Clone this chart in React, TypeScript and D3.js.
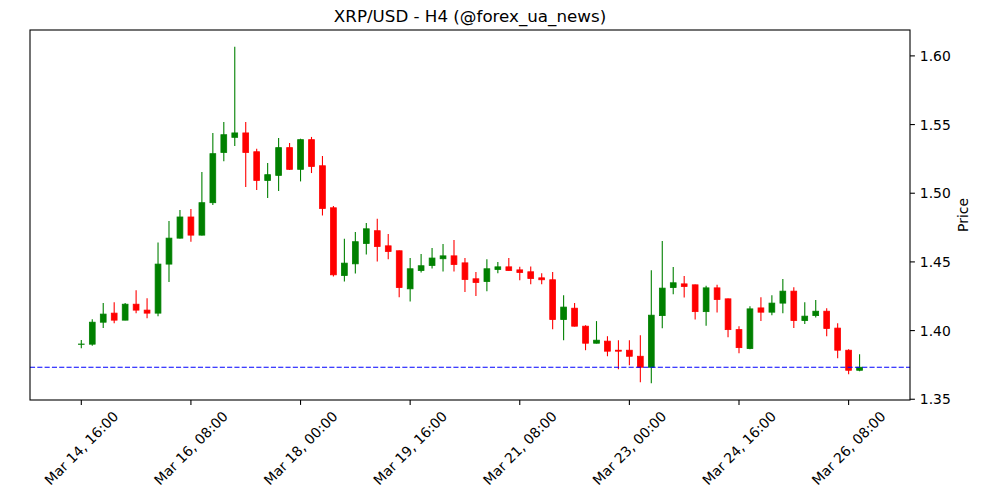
import React from "react";
import * as d3 from "d3";

// 4h candles, Mar 14 16:00 -> Mar 26 12:00
const opens = [
  1.3900, 1.3901, 1.4061, 1.4127, 1.4076, 1.4192, 1.4149, 1.4127, 1.4484, 1.4673,
  1.4827, 1.4695, 1.4931, 1.5297, 1.5407, 1.5439, 1.5302, 1.5093, 1.5130, 1.5332,
  1.5174, 1.5390, 1.5200, 1.4894, 1.4401, 1.4486, 1.4634, 1.4727, 1.4617, 1.4581,
  1.4304, 1.4437, 1.4474, 1.4523, 1.4544, 1.4493, 1.4377, 1.4357, 1.4445, 1.4464,
  1.4442, 1.4428, 1.4384, 1.4370, 1.4080, 1.4163, 1.4032, 1.3908, 1.3923, 1.3857,
  1.3857, 1.3813, 1.3733, 1.4109, 1.4313, 1.4340, 1.4333, 1.4138, 1.4311, 1.4231,
  1.4007, 1.3869, 1.4165, 1.4134, 1.4200, 1.4287, 1.4073, 1.4109, 1.4141, 1.4018,
  1.3857, 1.3711,
];
const highs = [
  1.3932, 1.4083, 1.4200, 1.4207, 1.4200, 1.4294, 1.4236, 1.4641, 1.4797, 1.4878,
  1.4885, 1.5155, 1.5439, 1.5519, 1.6066, 1.5519, 1.5324, 1.5220, 1.5402, 1.5366,
  1.5397, 1.5410, 1.5271, 1.4907, 1.4668, 1.4717, 1.4783, 1.4814, 1.4703, 1.4583,
  1.4528, 1.4557, 1.4601, 1.4630, 1.4659, 1.4528, 1.4426, 1.4520, 1.4500, 1.4528,
  1.4464, 1.4466, 1.4418, 1.4426, 1.4258, 1.4200, 1.4039, 1.4069, 1.3959, 1.3930,
  1.3930, 1.3966, 1.4440, 1.4652, 1.4462, 1.4397, 1.4335, 1.4326, 1.4333, 1.4233,
  1.4032, 1.4178, 1.4243, 1.4258, 1.4375, 1.4316, 1.4207, 1.4222, 1.4163, 1.4054,
  1.3864, 1.3828,
];
const lows = [
  1.3872, 1.3889, 1.4018, 1.4054, 1.4076, 1.4127, 1.4090, 1.4105, 1.4353, 1.4670,
  1.4647, 1.4693, 1.4914, 1.5232, 1.5344, 1.5045, 1.5023, 1.4965, 1.5016, 1.5170,
  1.5086, 1.5147, 1.4838, 1.4394, 1.4357, 1.4415, 1.4554, 1.4503, 1.4520, 1.4243,
  1.4211, 1.4423, 1.4452, 1.4430, 1.4430, 1.4280, 1.4251, 1.4287, 1.4418, 1.4435,
  1.4367, 1.4338, 1.4338, 1.4010, 1.3930, 1.4030, 1.3857, 1.3906, 1.3813, 1.3719,
  1.3748, 1.3624, 1.3617, 1.4017, 1.4265, 1.4241, 1.4080, 1.4036, 1.4131, 1.3952,
  1.3835, 1.3864, 1.4069, 1.4112, 1.4127, 1.4018, 1.4047, 1.4095, 1.3959, 1.3799,
  1.3682, 1.3704,
];
const closes = [
  1.3902, 1.4061, 1.4120, 1.4076, 1.4192, 1.4149, 1.4127, 1.4484, 1.4673, 1.4827,
  1.4695, 1.4931, 1.5288, 1.5426, 1.5439, 1.5297, 1.5093, 1.5135, 1.5332, 1.5174,
  1.5390, 1.5195, 1.4889, 1.4406, 1.4491, 1.4647, 1.4741, 1.4612, 1.4576, 1.4313,
  1.4450, 1.4472, 1.4528, 1.4544, 1.4481, 1.4372, 1.4350, 1.4450, 1.4464, 1.4437,
  1.4423, 1.4379, 1.4370, 1.4080, 1.4171, 1.4032, 1.3908, 1.3930, 1.3850, 1.3850,
  1.3813, 1.3733, 1.4112, 1.4309, 1.4348, 1.4321, 1.4138, 1.4311, 1.4226, 1.4007,
  1.3876, 1.4158, 1.4134, 1.4200, 1.4287, 1.4073, 1.4105, 1.4141, 1.4015, 1.3857,
  1.3711, 1.3733,
];

const tickIdx = [0, 10, 20, 30, 40, 50, 60, 70];
const tickLabels = [
  "Mar 14, 16:00", "Mar 16, 08:00", "Mar 18, 00:00", "Mar 19, 16:00",
  "Mar 21, 08:00", "Mar 23, 00:00", "Mar 24, 16:00", "Mar 26, 08:00",
];
const priceTicks = [1.35, 1.4, 1.45, 1.5, 1.55, 1.6];
const lastPrice = closes[closes.length - 1];

const W = 1000;
const H = 500;
const margin = { top: 30, right: 90, bottom: 100, left: 30 };
const font = "DejaVu Sans, sans-serif";

export default function App() {
  const x0 = margin.left;
  const x1 = W - margin.right;
  const y0 = margin.top;
  const y1 = H - margin.bottom;

  const lo = d3.min(lows)!;
  const hi = d3.max(highs)!;
  const pad = (hi - lo) * 0.05;

  const x = d3.scaleLinear().domain([-4.68, 75.6]).range([x0, x1]);
  const y = d3.scaleLinear().domain([lo - pad, hi + pad]).range([y1, y0]);

  const step = x(1) - x(0);
  const bodyW = step * 0.6 - 0.8;

  const candles = opens.map((o, i) => ({
    i,
    o,
    h: highs[i],
    l: lows[i],
    c: closes[i],
    color: closes[i] >= o ? "green" : "red",
  }));

  return (
    <svg
      width={W}
      height={H}
      style={{ position: "absolute", left: 0, top: 0, background: "#fff" }}
      fontFamily={font}
    >
      <text x={(x0 + x1) / 2} y={22} textAnchor="middle" fontSize={16.7} fill="#000">
        XRP/USD - H4 (@forex_ua_news)
      </text>

      {/* wicks */}
      {candles.map(d => (
        <line
          key={"w" + d.i}
          x1={x(d.i)}
          x2={x(d.i)}
          y1={y(d.h)}
          y2={y(d.l)}
          stroke={d.color}
          strokeWidth={1.1}
        />
      ))}
      {/* bodies */}
      {candles.map(d => (
        <rect
          key={"b" + d.i}
          x={x(d.i) - bodyW / 2}
          y={y(Math.max(d.o, d.c))}
          width={bodyW}
          height={Math.abs(y(d.o) - y(d.c))}
          fill={d.color}
          stroke={d.color}
          strokeWidth={0.8}
        />
      ))}

      <line
        x1={x0}
        x2={x1}
        y1={y(lastPrice)}
        y2={y(lastPrice)}
        stroke="blue"
        strokeWidth={1.1}
        strokeDasharray="5.1,2.2"
      />

      <rect
        x={x0}
        y={y0}
        width={x1 - x0}
        height={y1 - y0}
        fill="none"
        stroke="#000"
        strokeWidth={1.1}
      />

      {/* x ticks */}
      {tickIdx.map((t, k) => (
        <g key={"xt" + t}>
          <line x1={x(t)} x2={x(t)} y1={y1} y2={y1 + 4.9} stroke="#000" strokeWidth={1.1} />
          <text
            transform={`translate(${x(t)},${448}) rotate(-45)`}
            textAnchor="middle"
            dominantBaseline="central"
            fontSize={13.9}
            fill="#000"
          >
            {tickLabels[k]}
          </text>
        </g>
      ))}

      {/* y ticks on the right */}
      {priceTicks.map(p => (
        <g key={"yt" + p}>
          <line x1={x1} x2={x1 + 4.9} y1={y(p)} y2={y(p)} stroke="#000" strokeWidth={1.1} />
          <text
            x={x1 + 9.8}
            y={y(p)}
            dominantBaseline="central"
            fontSize={13.9}
            fill="#000"
          >
            {p.toFixed(2)}
          </text>
        </g>
      ))}

      <text
        transform={`translate(${963},${(y0 + y1) / 2}) rotate(-90)`}
        textAnchor="middle"
        dominantBaseline="central"
        fontSize={13.9}
        fill="#000"
      >
        Price
      </text>
    </svg>
  );
}
